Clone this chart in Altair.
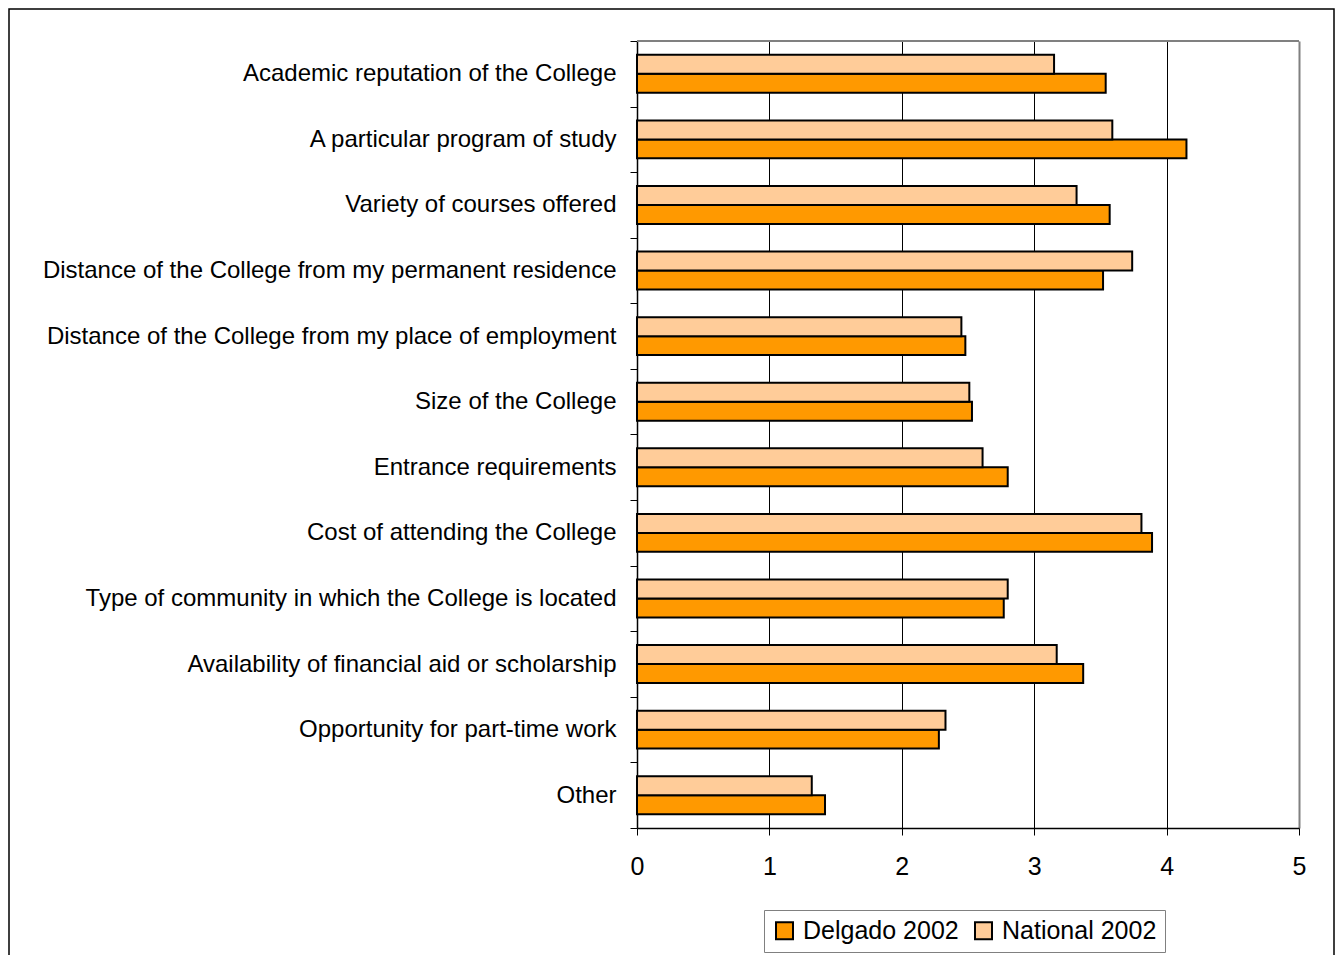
import altair as alt
import pandas as pd

categories = [
    "Academic reputation of the College",
    "A particular program of study",
    "Variety of courses offered",
    "Distance of the College from my permanent residence",
    "Distance of the College from my place of employment",
    "Size of the College",
    "Entrance requirements",
    "Cost of attending the College",
    "Type of community in which the College is located",
    "Availability of financial aid or scholarship",
    "Opportunity for part-time work",
    "Other",
]
delgado = [3.54, 4.15, 3.57, 3.52, 2.48, 2.53, 2.80, 3.89, 2.77, 3.37, 2.28, 1.42]
national = [3.15, 3.59, 3.32, 3.74, 2.45, 2.51, 2.61, 3.81, 2.80, 3.17, 2.33, 1.32]
series = ["Delgado 2002", "National 2002"]
colors = ["#FF9900", "#FFCC99"]
x_ticks = [0, 1, 2, 3, 4, 5]

rows = []
for c, d, n in zip(categories, delgado, national):
    rows.append({"item": c, "series": series[0], "value": d})
    rows.append({"item": c, "series": series[1], "value": n})
df = pd.DataFrame(rows)

FONT = "Liberation Sans"

bars = alt.Chart(df).mark_bar(stroke="black", strokeWidth=2).encode(
    x=alt.X(
        "value:Q",
        scale=alt.Scale(domain=[0, 5], nice=False),
        axis=alt.Axis(
            values=x_ticks, title=None, labelFontSize=25, labelColor="black",
            labelFont=FONT, tickSize=7, tickColor="black", domainColor="black",
            domainWidth=1.5, labelPadding=19, labelFlush=False, grid=True,
            gridColor={"condition": {"test": "datum.value >= 5", "value": "#808080"}, "value": "black"},
            gridWidth={"condition": {"test": "datum.value >= 5", "value": 2}, "value": 1},
            gridOpacity={"condition": {"test": "datum.value <= 0", "value": 0}, "value": 1},
        ),
    ),
    y=alt.Y(
        "item:N", sort=categories,
        scale=alt.Scale(paddingInner=0, paddingOuter=0),
        axis=alt.Axis(
            title=None, tickBand="extent", labelFontSize=24, labelColor="black",
            labelFont=FONT, tickSize=7, tickColor="black", domainColor="black",
            domainWidth=1.5, labelPadding=14, labelLimit=800, grid=False,
        ),
    ),
    yOffset=alt.YOffset(
        "series:N",
        scale=alt.Scale(domain=[series[1], series[0]], paddingOuter=0.726, paddingInner=0),
    ),
    color=alt.Color(
        "series:N",
        scale=alt.Scale(domain=series, range=colors),
        legend=alt.Legend(
            orient="none", legendX=127, legendY=869, direction="horizontal",
            title=None, labelFontSize=25, labelFont=FONT, labelColor="black",
            labelLimit=400,
            symbolType="square", symbolSize=289, symbolStrokeColor="black",
            symbolStrokeWidth=2, symbolOpacity=1, strokeColor="#808080", fillColor="white",
            padding=8, columnPadding=12, labelOffset=6,
        ),
    ),
)

border = alt.Chart(alt.Data(values=[{}])).mark_rect(
    fill=None, stroke="black", strokeWidth=1.5
).encode(
    x=alt.value(-628), x2=alt.value(697), y=alt.value(-32), y2=alt.value(1000)
)

top_line = alt.Chart(alt.Data(values=[{}])).mark_rule(
    color="#808080", strokeWidth=2
).encode(x=alt.value(0), x2=alt.value(662), y=alt.value(0))

chart = alt.layer(border, top_line, bars).properties(
    width=662, height=787,
    autosize=alt.AutoSizeParams(type="none"),
    padding={"left": 629, "top": 33, "right": 36, "bottom": 127},
).configure_view(stroke="#808080", strokeWidth=2).configure(font=FONT)

chart.save("out.html", embed_options={"renderer": "svg", "actions": False})
